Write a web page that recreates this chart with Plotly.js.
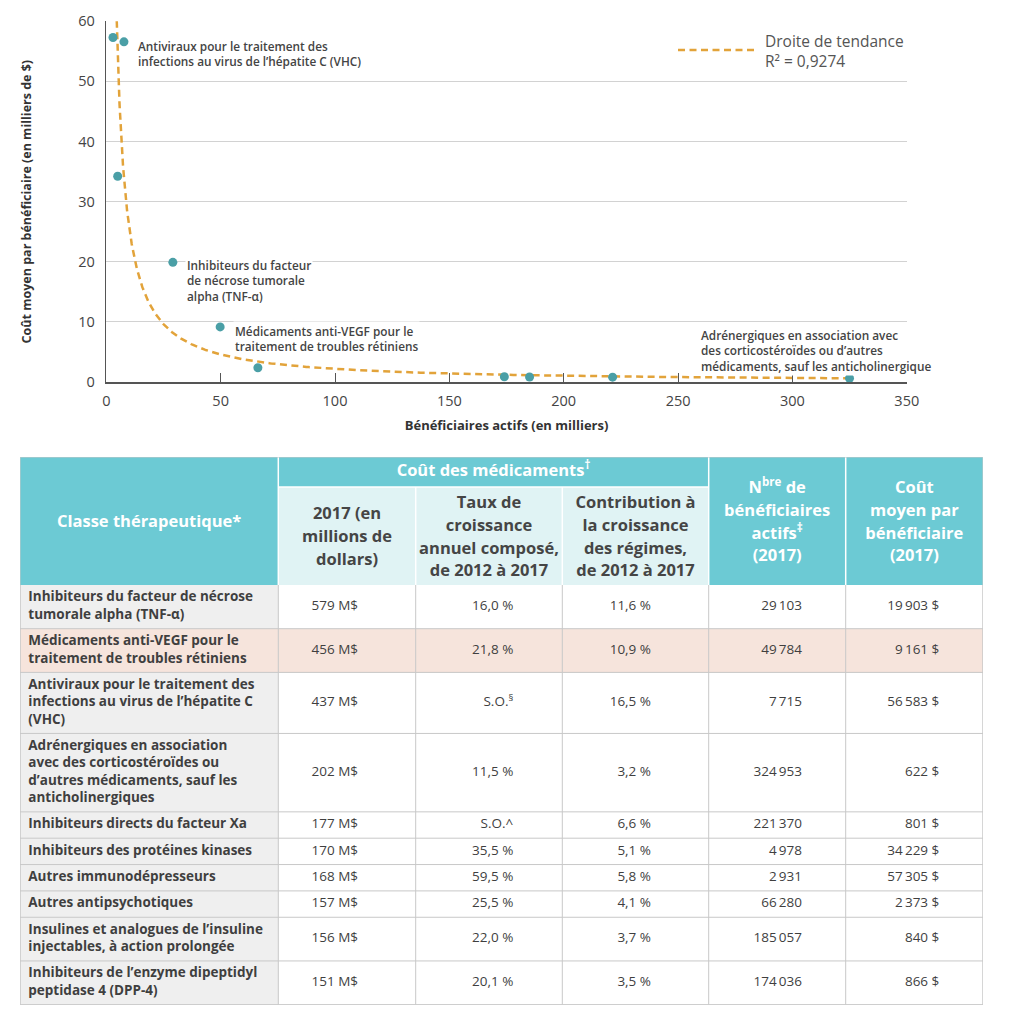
<!DOCTYPE html>
<html lang="fr">
<head>
<meta charset="utf-8">
<script src="https://cdn.plot.ly/plotly-3.0.1.min.js"></script>
<style>
html,body{margin:0;padding:0;background:#ffffff;}
#chart{width:1014px;height:1015px;}
</style>
</head>
<body>
<div id="chart"></div>
<script>
// ---------------- DATA ----------------
const categories = [
  "Inhibiteurs du facteur de nécrose<br>tumorale alpha (TNF-α)",
  "Médicaments anti-VEGF pour le<br>traitement de troubles rétiniens",
  "Antiviraux pour le traitement des<br>infections au virus de l’hépatite C<br>(VHC)",
  "Adrénergiques en association<br>avec des corticostéroïdes ou<br>d’autres médicaments, sauf les<br>anticholinergiques",
  "Inhibiteurs directs du facteur Xa",
  "Inhibiteurs des protéines kinases",
  "Autres immunodépresseurs",
  "Autres antipsychotiques",
  "Insulines et analogues de l’insuline<br>injectables, à action prolongée",
  "Inhibiteurs de l’enzyme dipeptidyl<br>peptidase 4 (DPP-4)"
];
const drugCostMillions = [579, 456, 437, 202, 177, 170, 168, 157, 156, 151];
const annualGrowthPct = [16.0, 21.8, null, 11.5, null, 35.5, 59.5, 25.5, 22.0, 20.1];
const annualGrowthNote = ["", "", "<sup>§</sup>", "", "^", "", "", "", "", ""];
const contributionPct = [11.6, 10.9, 16.5, 3.2, 6.6, 5.1, 5.8, 4.1, 3.7, 3.5];
const activeBeneficiaries = [29103, 49784, 7715, 324953, 221370, 4978, 2931, 66280, 185057, 174036];
const costPerBeneficiary = [19903, 9161, 56583, 622, 801, 34229, 57305, 2373, 840, 866];
const highlightedRow = 1;

const headerFirstCol = "Classe thérapeutique*";
const headerGroup = "Coût des médicaments<sup>†</sup>";
const headerSubCols = [
  ["2017 (en", "millions de", "dollars)"],
  ["Taux de", "croissance", "annuel composé,", "de 2012 à 2017"],
  ["Contribution à", "la croissance", "des régimes,", "de 2012 à 2017"]
];
const headerRightCols = [
  ["N<sup>bre</sup> de", "bénéficiaires", "actifs<sup>‡</sup>", "(2017)"],
  ["Coût", "moyen par", "bénéficiaire", "(2017)"]
];

const xTitle = "Bénéficiaires actifs (en milliers)";
const yTitle = "Coût moyen par bénéficiaire (en milliers de $)";
const xTickValues = [0, 50, 100, 150, 200, 250, 300, 350];
const yTickValues = [0, 10, 20, 30, 40, 50, 60];
const trendName = "Droite de tendance";
const trendR2Label = "R² = 0,9274";

const labelRows = [2, 0, 1, 3];
const labelTexts = [
  "Antiviraux pour le traitement des<br>infections au virus de l’hépatite C (VHC)",
  "Inhibiteurs du facteur<br>de nécrose tumorale<br>alpha (TNF-α)",
  "Médicaments anti-VEGF pour le<br>traitement de troubles rétiniens",
  "Adrénergiques en association avec<br>des corticostéroïdes ou d’autres<br>médicaments, sauf les anticholinergique"
];

// ---------------- STYLE ----------------
const W = 1014, H = 1015;
const FONT = "Open Sans";
const TEAL = "#6ccad4", LIGHT = "#e0f3f4", GRAYCELL = "#efefef", PINK = "#f6e4dc", BORDER = "#c8c8c8";
const TXT = "#3f3f3f", MARKER = "#4a9fa6", TREND = "#e2a33a";
const px = v => v / W;
const py = v => 1 - v / H;

// scatter plot area (pixels)
const plotL = 106.3, plotR = 906.8, plotT = 21.3, plotB = 382;

// table geometry (pixels)
const tableLeft = 20, tableTop = 457, headerBandH = 30, headerH = 128;
const colWidths = [258.3, 137.4, 146.6, 146.4, 137, 137.3];
const rightPads = [57.7, 49, 57.7, 43.7, 43.7];
const lineH = 17.35, rowPad = 9.0;
const headerLineGap = 22.8;

// ---------------- SCATTER ----------------
const xK = activeBeneficiaries.map(v => v / 1000);
const yK = costPerBeneficiary.map(v => v / 1000);

// power trendline (least squares in log-log space)
const lx = xK.map(Math.log), ly = yK.map(Math.log);
const n = lx.length;
const mx = lx.reduce((s, v) => s + v, 0) / n;
const my = ly.reduce((s, v) => s + v, 0) / n;
let sxy = 0, sxx = 0;
for (let i = 0; i < n; i++) { sxy += (lx[i] - mx) * (ly[i] - my); sxx += (lx[i] - mx) ** 2; }
const pb = sxy / sxx, pa = Math.exp(my - pb * mx);
const xStart = Math.pow(62 / pa, 1 / pb), xEnd = Math.max(...xK);
const trendX = [], trendY = [];
for (let k = 0; k <= 400; k++) {
  const xv = xStart * Math.pow(xEnd / xStart, k / 400);
  trendX.push(xv); trendY.push(pa * Math.pow(xv, pb));
}

const traces = [];
traces.push({
  type: "scatter", mode: "lines", x: trendX, y: trendY, name: trendName,
  line: {color: TREND, width: 2.5, dash: "7px,4.5px"}, hoverinfo: "skip", xaxis: "x", yaxis: "y"
});
traces.push({
  type: "scatter", mode: "markers", x: xK, y: yK, text: categories,
  marker: {color: MARKER, size: 9}, cliponaxis: false, hoverinfo: "skip", xaxis: "x", yaxis: "y"
});

// ---------------- TABLE ----------------
const colEdges = [0];
colWidths.forEach(w => colEdges.push(colEdges[colEdges.length - 1] + w));
const tableW = colEdges[colEdges.length - 1];
const lineCount = s => s.split("<br>").length;
const rowH = categories.map(c => rowPad + lineH * lineCount(c));
const rowTop = [];
let acc = headerH;
rowH.forEach(h => { rowTop.push(acc); acc += h; });
const tableH = acc;
const rowMid = rowTop.map((t, i) => t + rowH[i] / 2);

const fmtThousands = v => String(v).replace(/\B(?=(\d{3})+(?!\d))/g, "\u2009");
const fmtPct = v => v.toFixed(1).replace(".", ",") + "\u00a0%";
const numericCols = [
  drugCostMillions.map(v => v + "\u00a0M$"),
  annualGrowthPct.map((v, i) => v === null ? "S.O." + annualGrowthNote[i] : fmtPct(v)),
  contributionPct.map(fmtPct),
  activeBeneficiaries.map(fmtThousands),
  costPerBeneficiary.map(v => fmtThousands(v) + "\u00a0$")
];

const shapes = [];
const cellRect = (x0, x1, y0, y1, fill, line) => ({
  type: "rect", xref: "x2", yref: "y2", x0, x1, y0, y1, layer: "below",
  fillcolor: fill, line: line || {width: 0}
});
const seg = (x0, x1, y0, y1, color, width) => ({
  type: "line", xref: "x2", yref: "y2", x0, x1, y0, y1, layer: "below",
  line: {color, width}
});

// body fills
categories.forEach((c, i) => {
  if (i === highlightedRow) shapes.push(cellRect(0, tableW, rowTop[i], rowTop[i] + rowH[i], PINK));
  else shapes.push(cellRect(0, colEdges[1], rowTop[i], rowTop[i] + rowH[i], GRAYCELL));
});
// header fills
shapes.push(cellRect(0, tableW, 0, headerH, TEAL));
shapes.push(cellRect(colEdges[1], colEdges[4], headerBandH, headerH, LIGHT));
// body borders
rowTop.forEach((t, i) => shapes.push(seg(0, tableW, t + rowH[i], t + rowH[i], BORDER, 1)));
colEdges.forEach(e => shapes.push(seg(e, e, headerH, tableH, BORDER, 1)));
// header white separators
[colEdges[1], colEdges[4], colEdges[5]].forEach(e => shapes.push(seg(e, e, 0, headerH, "#ffffff", 1.5)));
[colEdges[2], colEdges[3]].forEach(e => shapes.push(seg(e, e, headerBandH, headerH, "#ffffff", 1.5)));
shapes.push(seg(colEdges[1], colEdges[4], headerBandH, headerBandH, "#ffffff", 1.5));
// outer border
shapes.push({type: "rect", xref: "x2", yref: "y2", x0: 0, x1: tableW, y0: 0, y1: tableH, layer: "above",
  fillcolor: "rgba(0,0,0,0)", line: {color: BORDER, width: 1}});

// body text traces
traces.push({
  type: "scatter", mode: "text", xaxis: "x2", yaxis: "y2", hoverinfo: "skip",
  x: categories.map(() => 8.3), y: rowMid, text: categories.map(c => "<b>" + c + "</b>"),
  textposition: "middle right", textfont: {family: FONT, size: 13.5, color: TXT}, cliponaxis: false
});
numericCols.forEach((vals, j) => {
  traces.push({
    type: "scatter", mode: "text", xaxis: "x2", yaxis: "y2", hoverinfo: "skip",
    x: vals.map(() => colEdges[j + 2] - rightPads[j]), y: rowMid, text: vals,
    textposition: "middle left", textfont: {family: FONT, size: 13.5, color: TXT}, cliponaxis: false
  });
});

// header text traces
const whiteX = [], whiteY = [], whiteT = [];
whiteX.push(colEdges[1] / 2); whiteY.push(headerH / 2 + 2); whiteT.push(headerFirstCol);
whiteX.push((colEdges[1] + colEdges[4]) / 2); whiteY.push(headerBandH / 2); whiteT.push(headerGroup);
headerRightCols.forEach((lines, j) => {
  const cx = (colEdges[4 + j] + colEdges[5 + j]) / 2;
  lines.forEach((t, k) => {
    whiteX.push(cx); whiteY.push(headerH / 2 + 2 + (k - (lines.length - 1) / 2) * headerLineGap); whiteT.push(t);
  });
});
const darkX = [], darkY = [], darkT = [];
headerSubCols.forEach((lines, j) => {
  const cx = (colEdges[1 + j] + colEdges[2 + j]) / 2;
  const cy = (headerBandH + headerH) / 2 + 2;
  lines.forEach((t, k) => {
    darkX.push(cx); darkY.push(cy + (k - (lines.length - 1) / 2) * headerLineGap); darkT.push(t);
  });
});
traces.push({
  type: "scatter", mode: "text", xaxis: "x2", yaxis: "y2", hoverinfo: "skip",
  x: whiteX, y: whiteY, text: whiteT.map(t => "<b>" + t + "</b>"), textposition: "middle center",
  textfont: {family: FONT, size: 16.5, color: "#ffffff"}, cliponaxis: false
});
traces.push({
  type: "scatter", mode: "text", xaxis: "x2", yaxis: "y2", hoverinfo: "skip",
  x: darkX, y: darkY, text: darkT.map(t => "<b>" + t + "</b>"), textposition: "middle center",
  textfont: {family: FONT, size: 16.5, color: "#454545"}, cliponaxis: false
});

// ---------------- ANNOTATIONS ----------------
const labelStyle = [
  {xshift: 12.5, yshift: 6},
  {xshift: 12.5, yshift: 7},
  {xshift: 12.5, yshift: 6},
  {xshift: -151, yshift: 53}
];
const annotations = labelRows.map((r, i) => ({
  x: xK[r], y: yK[r], xref: "x", yref: "y", text: labelTexts[i], showarrow: false,
  xanchor: "left", yanchor: "top", xshift: labelStyle[i].xshift, yshift: labelStyle[i].yshift,
  align: "left", bgcolor: "#ffffff", borderpad: 1,
  font: {family: FONT, size: 11.8, color: "#444444", weight: 600}
}));
annotations.push({
  x: px(763), y: py(51), xref: "paper", yref: "paper", text: trendName + "<br>" + trendR2Label,
  showarrow: false, align: "left",
  xanchor: "left", yanchor: "middle", font: {family: FONT, size: 15.5, color: "#555555"}
});
shapes.push({
  type: "line", xref: "paper", yref: "paper", x0: px(678), x1: px(757), y0: py(50), y1: py(50),
  line: {color: TREND, width: 2.5, dash: "7px,4.5px"}
});

// ---------------- LAYOUT ----------------
const layout = {
  width: W, height: H, margin: {l: 0, r: 0, t: 0, b: 0},
  paper_bgcolor: "#ffffff", plot_bgcolor: "#ffffff", showlegend: false,
  font: {family: FONT, color: "#444444"},
  xaxis: {
    domain: [px(plotL), px(plotR)], range: [0, 350], tickvals: xTickValues, anchor: "y",
    showgrid: false, zeroline: false, showline: true, linecolor: "#555555", linewidth: 1.5,
    ticks: "inside", ticklen: 9, tickcolor: "#555555", tickwidth: 1, ticklabelstandoff: 5,
    tickfont: {family: FONT, size: 14.5, color: "#444444"}, fixedrange: true,
    title: {text: xTitle, font: {family: FONT, size: 13, color: "#333333", weight: 700}, standoff: 12}
  },
  yaxis: {
    domain: [py(plotB), py(plotT)], range: [0, 60], tickvals: yTickValues, anchor: "x",
    showgrid: true, gridcolor: "#d2d2d2", gridwidth: 1, zeroline: false,
    showline: true, linecolor: "#555555", linewidth: 1.5, ticks: "", ticklabelstandoff: 7,
    tickfont: {family: FONT, size: 14.5, color: "#444444"}, fixedrange: true,
    title: {text: yTitle, font: {family: FONT, size: 12.5, color: "#333333", weight: 700}, standoff: 44}
  },
  xaxis2: {domain: [px(tableLeft), px(tableLeft + tableW)], range: [0, tableW], visible: false, fixedrange: true, anchor: "y2"},
  yaxis2: {domain: [py(tableTop + tableH), py(tableTop)], range: [tableH, 0], visible: false, fixedrange: true, anchor: "x2"},
  shapes, annotations
};

Plotly.newPlot("chart", traces, layout, {staticPlot: true, displayModeBar: false});
</script>
</body>
</html>
